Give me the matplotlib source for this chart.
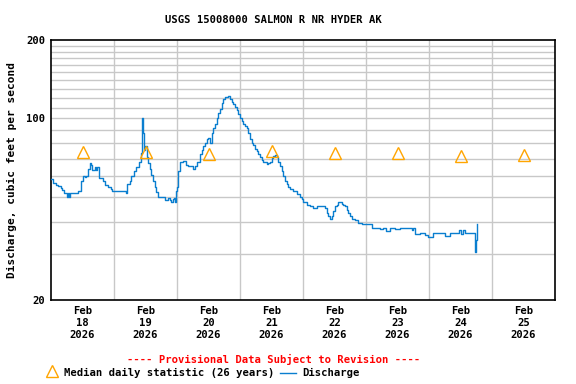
# USGS style hydrograph - Salmon R nr Hyder AK

import matplotlib
matplotlib.use("Agg")
import matplotlib.pyplot as plt
from matplotlib.lines import Line2D

# hours after Feb 18 2026 00:00 and discharge (cfs)
hours = [0.0, 0.8, 1.9, 2.7, 3.8, 4.2, 5.0, 6.1, 6.5, 6.9, 7.2, 9.5, 10.3, 11.4,
         12.2, 13.0, 13.3, 14.1, 14.9, 15.2, 15.6, 16.0, 16.8, 17.3, 17.6, 18.2,
         19.8, 20.6, 21.7, 22.9, 23.2, 28.2, 28.6, 29.1, 30.0, 30.6, 31.6, 32.5,
         33.4, 34.2, 34.4, 34.8, 35.2, 35.4, 35.9, 36.5, 37.0, 37.6, 38.2, 38.9,
         39.5, 40.1, 40.8, 43.3, 43.6, 44.6, 45.3, 45.8, 46.5, 46.9, 47.2, 47.5,
         47.9, 48.5, 49.1, 50.4, 51.4, 52.3, 53.6, 54.2, 54.9, 55.5, 56.8, 57.4,
         58.0, 58.7, 59.3, 59.9, 60.6, 61.2, 61.8, 62.5, 63.1, 63.7, 64.4, 65.0,
         65.6, 66.3, 66.9, 67.5, 68.2, 68.8, 69.4, 70.1, 70.7, 71.4, 72.0, 72.6,
         73.3, 73.9, 74.6, 75.2, 75.8, 76.5, 77.1, 77.7, 78.4, 79.0, 79.6, 80.3,
         80.9, 82.2, 82.8, 83.4, 84.1, 84.7, 85.3, 86.0, 86.6, 87.2, 87.9, 88.5,
         89.1, 89.8, 90.4, 91.0, 92.3, 93.6, 94.9, 95.5, 96.1, 97.4, 98.7, 99.9,
         101.2, 103.7, 104.4, 105.0, 105.6, 106.3, 106.9, 107.5, 108.2, 108.8,
         109.4, 110.1, 110.7, 111.4, 112.0, 112.6, 113.3, 113.9, 114.6, 115.8,
         117.1, 118.4, 121.5, 122.2, 124.1, 125.3, 126.5, 127.6, 129.1, 131.0,
         133.0, 135.5, 137.4, 137.9, 138.7, 140.6, 142.5, 143.6, 145.5, 148.2,
         150.1, 152.0, 154.7, 155.4, 156.2, 157.0, 157.7, 158.5, 161.5, 161.7,
         161.9, 162.3]
discharge = [58.5, 56.5, 55.5, 55.0, 54.0, 52.8, 51.5, 50.0, 51.5, 50.0, 51.5, 51.5,
             52.5, 57.5, 60.0, 59.5, 60.0, 64.0, 67.0, 66.0, 63.0, 63.0, 65.0, 63.0,
             65.0, 59.0, 57.5, 55.6, 54.5, 53.5, 52.4, 52.4, 51.8, 55.7, 57.6, 60.0,
             62.5, 65.0, 68.0, 69.2, 73.5, 100.0, 88.0, 75.5, 78.0, 71.0, 67.0, 64.0,
             60.6, 57.5, 54.5, 52.0, 50.0, 49.8, 48.5, 49.5, 48.5, 47.5, 49.0, 49.5,
             47.5, 52.4, 54.5, 62.5, 68.0, 68.5, 66.0, 65.5, 65.5, 63.8, 65.5, 68.0,
             72.6, 75.5, 78.5, 80.5, 83.0, 84.0, 80.5, 88.0, 91.5, 95.0, 100.0, 105.0,
             109.0, 114.0, 118.5, 121.0, 121.0, 122.0, 118.5, 116.0, 113.0, 110.5,
             107.5, 104.0, 100.0, 97.5, 95.0, 93.5, 91.5, 88.0, 83.5, 80.5, 79.0,
             76.5, 74.7, 73.0, 71.0, 69.0, 67.6, 66.6, 67.0, 67.6, 70.4, 71.3, 72.0,
             71.0, 68.0, 65.3, 62.5, 59.8, 57.5, 55.8, 54.2, 53.4, 52.4, 51.0, 50.0,
             49.0, 47.5, 46.5, 45.8, 45.0, 45.8, 45.8, 45.0, 43.1, 42.0, 41.0, 42.0,
             43.8, 45.8, 46.5, 47.5, 47.5, 46.8, 46.5, 45.8, 44.4, 43.1, 42.0, 41.0,
             40.5, 39.7, 39.3, 39.3, 37.8, 37.8, 37.4, 37.8, 37.0, 37.8, 37.4, 37.8,
             37.8, 37.2, 37.8, 36.0, 36.2, 35.5, 35.0, 36.1, 36.1, 35.2, 36.1, 36.1,
             37.2, 35.8, 37.2, 36.1, 36.1, 36.1, 30.7, 34.0, 39.3]

# median daily statistic, one per day at noon
median_hours = [12, 36, 60, 84, 108, 132, 156, 180]
median_vals = [74.5, 74.5, 72.9, 74.7, 73.8, 73.8, 71.5, 72.5]

day_labels = ["Feb\n18\n2026", "Feb\n19\n2026", "Feb\n20\n2026", "Feb\n21\n2026",
              "Feb\n22\n2026", "Feb\n23\n2026", "Feb\n24\n2026", "Feb\n25\n2026"]

font = {"family": "DejaVu Sans Mono", "weight": "bold"}
fs = 7.6

fig = plt.figure(figsize=(5.76, 3.84), dpi=100)
ax = fig.add_axes([51 / 576, 1 - 300 / 384, 504 / 576, 260 / 384])

ax.set_yscale("log")
ax.set_ylim(20, 200)
ax.set_xlim(0, 192)

# grid lines
for v in [30, 40, 50, 60, 70, 80, 90, 100, 110, 120, 130, 140, 150, 160, 170, 180, 190]:
    ax.axhline(v, color="#c8c8c8", lw=1.0, zorder=0)
for d in range(24, 192, 24):
    ax.axvline(d, color="#c8c8c8", lw=1.0, zorder=0)

ax.plot(hours, discharge, color="#0a7ecf", lw=1.0, drawstyle="steps-post", zorder=3)
ax.plot(median_hours, median_vals, linestyle="none", marker="^", markersize=8,
        markerfacecolor="none", markeredgecolor="#ffa500", markeredgewidth=1.0, zorder=4)

ax.set_yticks([20, 100, 200])
ax.set_yticklabels(["20", "100", "200"], fontdict=font, fontsize=fs)
ax.minorticks_off()
ax.set_yticks([], minor=True)
ax.set_xticks(median_hours)
ax.set_xticklabels(day_labels, fontdict=font, fontsize=fs, linespacing=1.3)
ax.tick_params(axis="both", length=0, pad=4)

for s in ax.spines.values():
    s.set_linewidth(1.2)
    s.set_color("black")

ax.set_ylabel("Discharge, cubic feet per second", fontdict=font, fontsize=8, labelpad=7)
fig.text(273.5 / 576, 1 - 20 / 384, "USGS 15008000 SALMON R NR HYDER AK", ha="center",
         va="center", fontsize=fs, **font)

fig.text(273.5 / 576, 1 - 359 / 384, "---- Provisional Data Subject to Revision ----",
         ha="center", va="center", color="red", fontsize=fs, **font)

# legend row
fig.add_artist(Line2D([51.5 / 576], [1 - 371 / 384], marker="^", markersize=8, linestyle="none",
                      markerfacecolor="none", markeredgecolor="#ffa500", markeredgewidth=1.0,
                      transform=fig.transFigure))
fig.text(64 / 576, 1 - 373 / 384, "Median daily statistic (26 years)", ha="left", va="center",
         fontsize=fs, **font)
fig.add_artist(Line2D([280 / 576, 296 / 576], [1 - 373 / 384, 1 - 373 / 384], color="#0a7ecf",
                      lw=1.0, transform=fig.transFigure))
fig.text(302 / 576, 1 - 373 / 384, "Discharge", ha="left", va="center", fontsize=fs, **font)

fig.savefig("out.png", dpi=100)
